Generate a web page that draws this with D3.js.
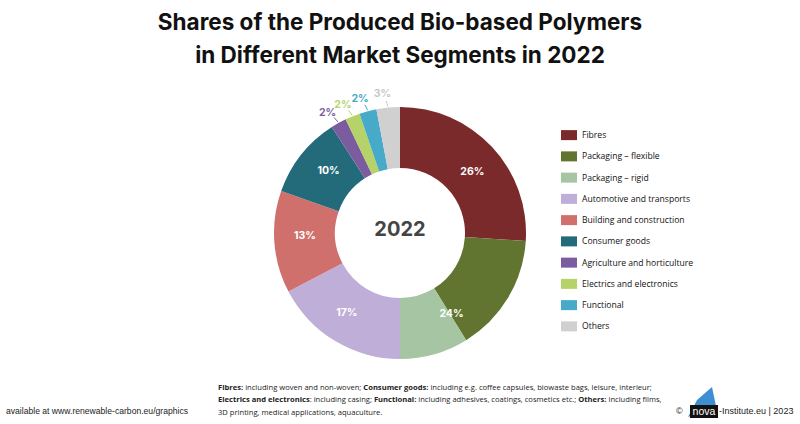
<!DOCTYPE html>
<html><head><meta charset="utf-8">
<script src="https://cdn.jsdelivr.net/npm/d3@7/dist/d3.min.js"></script>
<style>
body{margin:0;background:#fff;}
svg{display:block;font-family:"Open Sans","Noto Sans",sans-serif;}
</style></head>
<body><svg id="c" width="800" height="424"></svg>
<script>
const categories = ["Fibres","Packaging – flexible","Packaging – rigid","Automotive and transports","Building and construction","Consumer goods","Agriculture and horticulture","Electrics and electronics","Functional","Others"];
const values = [26, 15.2, 8.8, 17.3, 13.1, 10.5, 2.0, 1.9, 2.2, 3.0];
const colors = ["#7b2a2b","#617530","#a6c5a2","#bfaed7","#d0706d","#236a7a","#7b5d9f","#b6d36a","#46aac8","#d0d0d0"];
const insideLabels = [{i:0,text:"26%"},{i:1,text:"24%",edge:true},{i:3,text:"17%"},{i:4,text:"13%"},{i:5,text:"10%"}];
const outsideLabels = [{i:6,text:"2%"},{i:7,text:"2%"},{i:8,text:"2%"},{i:9,text:"3%",color:"#c8c8c8"}];
const titleLines = ["Shares of the Produced Bio-based Polymers","in Different Market Segments in 2022"];
const centerText = "2022";
const footnote = [
  [["Fibres:",true],[" including woven and non-woven; ",false],["Consumer goods:",true],[" including e.g. coffee capsules, biowaste bags, leisure, interieur;",false]],
  [["Electrics and electronics",true],[": including casing; ",false],["Functional:",true],[" including adhesives, coatings, cosmetics etc.; ",false],["Others:",true],[" including films,",false]],
  [["3D printing, medical applications, aquaculture.",false]]
];

const svg = d3.select("#c");
// Title
svg.append("g").selectAll("text").data(titleLines).join("text")
  .attr("x",400).attr("y",(d,i)=>30+i*32.5)
  .attr("text-anchor","middle")
  .attr("font-family","Inter, 'Open Sans', sans-serif")
  .attr("font-weight",700).attr("font-size",22.5).attr("fill","#111")
  .text(d=>d);

const cx=400, cy=233, R=126, r=65;
const pie = d3.pie().sort(null).value(d=>d)(values);
const arc = d3.arc().innerRadius(r).outerRadius(R);
const g = svg.append("g").attr("transform",`translate(${cx},${cy})`);
g.selectAll("path").data(pie).join("path")
  .attr("d",arc).attr("fill",(d,i)=>colors[i]);

// inside labels
g.selectAll("text.in").data(insideLabels).join("text").attr("class","in")
  .attr("transform",d=>{
    const p = pie[d.i];
    let a = d.edge ? p.endAngle - 0.02 : (p.startAngle+p.endAngle)/2 + 0.05;
    const rr = 95;
    return `translate(${rr*Math.sin(a)},${-rr*Math.cos(a)})`;
  })
  .attr("text-anchor","middle").attr("dy","0.36em")
  .attr("fill","#fff").attr("font-weight",700).attr("font-size",10.5)
  .attr("font-family","Inter, sans-serif")
  .text(d=>d.text);

// outside labels with leaders
const mid = d => (pie[d.i].startAngle+pie[d.i].endAngle)/2;
const og = g.selectAll("g.out").data(outsideLabels).join("g").attr("class","out");
og.append("line")
  .attr("x1",d=>127*Math.sin(mid(d)))
  .attr("y1",d=>-127*Math.cos(mid(d)))
  .attr("x2",d=>133*Math.sin(mid(d)-0.01))
  .attr("y2",d=>-133*Math.cos(mid(d)-0.01))
  .attr("stroke",d=>d.color||colors[d.i]).attr("stroke-width",1);
og.append("text")
  .attr("x",d=>141*Math.sin(mid(d)-0.03))
  .attr("y",d=>-141*Math.cos(mid(d)-0.03))
  .attr("text-anchor","middle").attr("dy","0.36em")
  .attr("fill",d=>d.color||colors[d.i]).attr("font-weight",700).attr("font-size",10.5)
  .attr("font-family","Inter, sans-serif")
  .text(d=>d.text);

// center
g.append("text").attr("y",-4).attr("text-anchor","middle").attr("dy","0.36em")
  .attr("font-family","Inter, sans-serif").attr("font-weight",700).attr("font-size",20)
  .attr("fill","#444").text(centerText);

// legend
const ly = d3.scaleBand().domain(categories).range([124.5,337]);
const lg = svg.append("g").selectAll("g").data(categories).join("g")
  .attr("transform",d=>`translate(561,${ly(d)+ly.bandwidth()/2})`);
lg.append("rect").attr("x",0).attr("y",-5).attr("width",16).attr("height",10).attr("fill",(d,i)=>colors[i]);
lg.append("text").attr("x",21).attr("dy","0.35em").attr("font-size",8.6).attr("fill","#111")
  .attr("font-family","'Open Sans', sans-serif").text(d=>d);

// footer
svg.append("text").attr("x",6).attr("y",414).attr("font-size",8.6).attr("fill","#222")
  .attr("font-family","'Liberation Sans', Arial, sans-serif")
  .text("available at www.renewable-carbon.eu/graphics");
const ft = svg.append("g");
footnote.forEach((line,li)=>{
  const t = ft.append("text").attr("x",218).attr("y",390+li*12.3).attr("font-size",7.6).attr("fill","#222")
    .attr("font-family","'Open Sans', sans-serif");
  line.forEach(([s,b])=>t.append("tspan").attr("font-weight",b?700:400).text(s));
});
// logo
const logo = svg.append("g");
logo.append("text").attr("x",676).attr("y",414).attr("font-size",9).attr("fill","#222")
  .attr("font-family","'Liberation Sans', Arial, sans-serif").text("©");
logo.append("path").attr("d","M688,417 L697,400 L712,387 L716,406 Z").attr("fill","#3d8fd1");
logo.append("rect").attr("x",690).attr("y",405).attr("width",28).attr("height",13).attr("fill","#111");
logo.append("text").attr("x",704).attr("y",415).attr("text-anchor","middle").attr("font-size",10.5)
  .attr("fill","#fff").attr("font-family","'Liberation Sans', Arial, sans-serif").text("nova");
logo.append("text").attr("x",719).attr("y",414).attr("font-size",9).attr("fill","#222")
  .attr("font-family","'Liberation Sans', Arial, sans-serif").text("-Institute.eu | 2023");
</script></body></html>
